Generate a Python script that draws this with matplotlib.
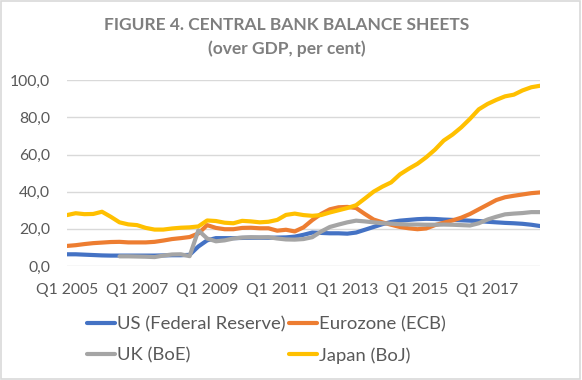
import matplotlib
matplotlib.use("Agg")
import matplotlib.pyplot as plt
from matplotlib.patches import Rectangle

plt.rcParams['font.family'] = ['Lato', 'DejaVu Sans']

quarters = [f"Q{q} {y}" for y in range(2005, 2019) for q in range(1, 5)][:55]

us = [6.3, 6.3, 6.1, 5.9, 5.7, 5.6, 5.6, 5.6, 5.6, 5.6, 5.6, 5.7, 5.8, 5.8, 6.0,
      10.5, 13.8, 15.0, 15.0, 15.0, 15.1, 15.2, 15.2, 15.2, 15.3, 15.4, 15.8, 16.8,
      18.0, 17.8, 17.6, 17.6, 17.4, 18.0, 19.5, 21.0, 22.5, 23.7, 24.4, 24.8, 25.2,
      25.4, 25.3, 25.0, 24.8, 24.6, 24.4, 24.2, 23.8, 23.5, 23.2, 23.0, 22.7, 22.2, 21.5]

ez = [10.8, 11.2, 11.8, 12.3, 12.6, 12.9, 13.0, 12.7, 12.7, 12.7, 13.0, 13.7, 14.5,
      15.0, 15.6, 17.5, 22.0, 20.5, 19.8, 19.8, 20.5, 20.6, 20.3, 20.3, 19.0, 19.5,
      18.6, 20.8, 24.7, 28.0, 30.5, 31.6, 31.8, 31.2, 28.0, 25.0, 23.5, 22.2, 21.0,
      20.3, 19.8, 20.2, 22.0, 23.3, 24.5, 26.0, 28.0, 30.5, 33.0, 35.5, 37.0, 37.8,
      38.5, 39.2, 39.6]

uk = [None] * 6 + [5.2, 5.2, 5.1, 5.0, 4.8, 5.6, 6.2, 6.3, 5.3, 19.2, 14.8, 13.3,
      13.8, 14.8, 15.3, 15.5, 15.4, 15.5, 14.8, 14.3, 14.2, 14.5, 15.5, 18.5, 21.0,
      22.3, 23.5, 24.4, 24.0, 23.5, 23.0, 22.8, 22.5, 22.3, 22.3, 22.2, 22.2, 22.3,
      22.2, 22.0, 21.8, 23.0, 25.0, 26.5, 27.8, 28.2, 28.5, 29.0, 29.0]

jp = [27.4, 28.4, 27.9, 28.0, 29.2, 26.5, 23.5, 22.4, 22.0, 20.5, 19.6, 19.6, 20.2,
      20.6, 20.8, 21.3, 24.5, 24.2, 23.3, 23.0, 24.3, 24.0, 23.5, 23.8, 24.8, 27.5,
      28.2, 27.4, 27.0, 27.4, 28.8, 30.0, 31.2, 32.7, 36.3, 40.0, 42.7, 45.0, 49.3,
      52.3, 55.0, 58.5, 62.6, 67.5, 70.7, 74.6, 79.2, 84.3, 87.2, 89.4, 91.3, 92.2,
      94.5, 96.2, 97.0]

series_names = ["US (Federal Reserve)", "Eurozone (ECB)", "UK (BoE)", "Japan (BoJ)"]
colors = ["#4472C4", "#ED7D31", "#A5A5A5", "#FFC000"]
yticks = [0, 20, 40, 60, 80, 100]
ytick_labels = ["0,0", "20,0", "40,0", "60,0", "80,0", "100,0"]

fig = plt.figure(figsize=(5.82, 3.80), dpi=100)
fig.patch.set_facecolor("white")
fig.patches.append(Rectangle((0.001, 0.002), 0.996, 0.995, transform=fig.transFigure,
                             fill=False, edgecolor="#D9D9D9", linewidth=1.2))

ax = fig.add_axes([0.115, 0.30, 0.813, 0.489])
x = list(range(len(quarters)))
lines = []
for vals, name, c in zip([us, ez, uk, jp], series_names, colors):
    xs = [i for i, v in zip(x, vals) if v is not None]
    ys = [v for v in vals if v is not None]
    ln, = ax.plot(xs, ys, color=c, linewidth=3.0, label=name, solid_capstyle="round",
                  solid_joinstyle="round")
    lines.append(ln)

ax.set_xlim(0, len(quarters) - 1)
ax.set_ylim(0, 100)
ax.set_yticks(yticks)
ax.set_yticklabels(ytick_labels)
ax.set_xticks(x[::8])
ax.set_xticklabels(quarters[::8])
ax.tick_params(axis="both", length=0, colors="#595959", labelsize=11.3)
ax.tick_params(axis="x", pad=12)
ax.tick_params(axis="y", pad=12)
ax.grid(axis="y", color="#D9D9D9", linewidth=1.0)
ax.set_axisbelow(True)
for s in ax.spines.values():
    s.set_visible(False)

fig.text(0.493, 0.934, "FIGURE 4. CENTRAL BANK BALANCE SHEETS", ha="center", va="center",
         fontsize=12.5, fontweight="bold", color="#7F7F7F")
fig.text(0.493, 0.872, "(over GDP, per cent)", ha="center", va="center",
         fontsize=12.5, fontweight="bold", color="#7F7F7F")

order = [0, 2, 1, 3]
leg = fig.legend([lines[i] for i in order], [series_names[i] for i in order],
                 loc="upper left", bbox_to_anchor=(0.150, 0.168), bbox_transform=fig.transFigure,
                 ncol=2, frameon=False, borderaxespad=0, borderpad=0,
                 fontsize=13.3, handlelength=1.5, handletextpad=0.1, columnspacing=0.2,
                 labelspacing=0.8)
for t in leg.get_texts():
    t.set_color("#595959")

fig.savefig("out.png", dpi=100, facecolor="white")
